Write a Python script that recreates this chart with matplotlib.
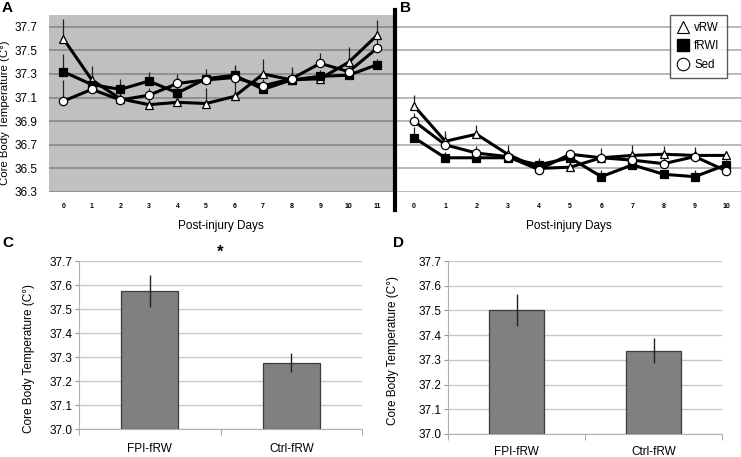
import numpy as np
import matplotlib
matplotlib.use('Agg')
import matplotlib.pyplot as plt
from matplotlib.lines import Line2D

plt.rcParams['font.family'] = ['Liberation Sans', 'DejaVu Sans']

# ---- panel A / B data (core body temperature by post-injury day) ----
days_a = list(range(12))
a_vrw = [37.60, 37.25, 37.09, 37.04, 37.06, 37.05, 37.11, 37.30, 37.25, 37.26, 37.40, 37.63]
a_frwi = [37.32, 37.21, 37.17, 37.24, 37.14, 37.26, 37.29, 37.17, 37.25, 37.28, 37.29, 37.38]
a_sed = [37.07, 37.17, 37.08, 37.12, 37.22, 37.25, 37.27, 37.20, 37.26, 37.39, 37.32, 37.52]
a_vrw_err = [0.17, 0.12, 0.08, 0.08, 0.08, 0.13, 0.15, 0.13, 0.08, 0.06, 0.13, 0.13]
a_frwi_err = [0.15, 0.08, 0.09, 0.08, 0.06, 0.05, 0.08, 0.05, 0.11, 0.05, 0.05, 0.05]
a_sed_err = [0.18, 0.07, 0.06, 0.06, 0.08, 0.09, 0.11, 0.06, 0.06, 0.09, 0.07, 0.08]

days_b = list(range(11))
b_vrw = [37.03, 36.73, 36.79, 36.62, 36.50, 36.51, 36.59, 36.61, 36.62, 36.61, 36.61]
b_frwi = [36.76, 36.59, 36.59, 36.59, 36.53, 36.59, 36.43, 36.53, 36.45, 36.43, 36.53]
b_sed = [36.90, 36.70, 36.63, 36.60, 36.49, 36.62, 36.59, 36.57, 36.54, 36.60, 36.48]
b_vrw_err = [0.09, 0.09, 0.08, 0.08, 0.05, 0.05, 0.08, 0.09, 0.07, 0.07, 0.04]
b_frwi_err = [0.09, 0.05, 0.04, 0.04, 0.06, 0.04, 0.06, 0.04, 0.04, 0.06, 0.04]
b_sed_err = [0.07, 0.09, 0.06, 0.05, 0.04, 0.04, 0.04, 0.04, 0.05, 0.04, 0.04]

yticks_ab = [36.3, 36.5, 36.7, 36.9, 37.1, 37.3, 37.5, 37.7]

# ---- panel C / D data ----
groups = ['FPI-fRW', 'Ctrl-fRW']
c_mean = [37.575, 37.277]
c_err = [0.068, 0.04]
d_mean = [37.502, 37.337]
d_err = [0.066, 0.05]
yticks_cd = [37.0, 37.1, 37.2, 37.3, 37.4, 37.5, 37.6, 37.7]

W, H = 741, 457
fig = plt.figure(figsize=(W / 100, H / 100), dpi=100)


def box(l, t, r, b):
    return [l / W, 1 - b / H, (r - l) / W, (b - t) / H]


ylab = 'Core Body Temperature (C°)'


def line_panel(ax, x, series, errs, grid_col):
    styles = [dict(marker='^', mfc='white'), dict(marker='s', mfc='black'), dict(marker='o', mfc='white')]
    for y, e in zip(series, errs):
        ax.errorbar(x, y, yerr=[np.zeros(len(e)), e], fmt='none', ecolor='#222222',
                    elinewidth=0.9, capsize=0, zorder=2)
    for y, st in zip(series, styles):
        ax.plot(x, y, color='black', lw=2.2, ms=6, mec='black', mew=0.9, zorder=3, **st)
    ax.set_ylim(36.3, 37.8)
    ax.set_yticks(yticks_ab)
    ax.set_xticks(x)
    ax.set_xticklabels([str(d) for d in x], fontsize=5, fontweight='bold')
    ax.grid(axis='y', color=grid_col, lw=1.3)
    ax.set_axisbelow(True)
    for s in ax.spines.values():
        s.set_visible(False)
    ax.tick_params(length=0)
    ax.tick_params(axis='x', pad=8)
    ax.set_xlabel('Post-injury Days', fontsize=8.5, labelpad=7)


# Panel A
axA = fig.add_axes(box(49, 15, 393, 192))
axA.set_facecolor('#c0c0c0')
line_panel(axA, days_a, [a_vrw, a_frwi, a_sed], [a_vrw_err, a_frwi_err, a_sed_err], '#8c8c8c')
axA.set_xlim(-0.5, 11.55)
axA.tick_params(axis='y', labelsize=8.5, pad=8)
axA.set_ylabel(ylab, fontsize=8.2)
axA.yaxis.set_label_coords(-0.113, 0.445)

# Panel B
axB = fig.add_axes(box(396, 15, 741, 192))
line_panel(axB, days_b, [b_vrw, b_frwi, b_sed], [b_vrw_err, b_frwi_err, b_sed_err], '#b4b4b4')
axB.set_xlim(-0.58, 10.48)
axB.set_yticklabels([])
handles = [Line2D([], [], ls='none', marker='^', ms=9, mfc='white', mec='black', mew=0.8),
           Line2D([], [], ls='none', marker='s', ms=8, mfc='black', mec='black'),
           Line2D([], [], ls='none', marker='o', ms=9, mfc='white', mec='black', mew=0.8)]
leg = axB.legend(handles, ['vRW', 'fRWI', 'Sed'], loc='upper right',
                 bbox_to_anchor=(0.958, 1.0), borderaxespad=0, fontsize=8.3, frameon=True,
                 fancybox=False, handlelength=1.0, handletextpad=0.5, borderpad=0.6,
                 labelspacing=0.55)
leg.get_frame().set_edgecolor('#333333')
leg.get_frame().set_linewidth(1.0)

# vertical divider between A and B
fig.add_artist(Line2D([395 / W, 395 / W], [1 - 10 / H, 1 - 210 / H], color='black', lw=3))


def bar_panel(ax, means, errs, xpad):
    x = np.arange(len(groups))
    ax.bar(x, [m - 37.0 for m in means], bottom=37.0, width=0.4, color='#808080',
           edgecolor='#3c3c3c', lw=0.9, zorder=2)
    ax.errorbar(x, means, yerr=errs, fmt='none', ecolor='#222222', elinewidth=1.0,
                capsize=0, zorder=3)
    ax.set_xlim(-0.5, 1.5)
    ax.set_ylim(37.0, 37.7)
    ax.set_yticks(yticks_cd)
    ax.set_yticklabels(['%.1f' % v for v in yticks_cd], fontsize=8.5)
    ax.set_xticks(x)
    ax.set_xticklabels(groups, fontsize=8.5)
    ax.set_xticks([-0.5, 0.5, 1.5], minor=True)
    ax.tick_params(axis='x', which='major', length=0, pad=xpad)
    ax.tick_params(axis='x', which='minor', length=4, color='#999999')
    ax.tick_params(axis='y', length=3, color='#999999', pad=2)
    ax.grid(axis='y', color='#c8c8c8', lw=1.0)
    ax.set_axisbelow(True)
    ax.spines['top'].set_visible(False)
    ax.spines['right'].set_visible(False)
    ax.spines['left'].set_color('#b0b0b0')
    ax.spines['bottom'].set_color('#b0b0b0')
    ax.set_ylabel(ylab, fontsize=8.5)


# Panel C
axC = fig.add_axes(box(79, 261, 362, 429))
bar_panel(axC, c_mean, c_err, 10)
axC.yaxis.set_label_coords(-0.155, 0.42)
axC.text(0.5, 37.705, '*', ha='center', va='bottom', fontsize=12, fontweight='bold', clip_on=False)

# Panel D
axD = fig.add_axes(box(448, 261, 722, 434))
bar_panel(axD, d_mean, d_err, 8.5)
axD.yaxis.set_label_coords(-0.178, 0.48)

# panel letters
for lab, (px, py) in zip('ABCD', [(2, 1), (400, 1), (2, 236), (393, 236)]):
    fig.text(px / W, 1 - py / H, lab, fontsize=11, fontweight='bold', ha='left', va='top')

fig.savefig('out.png', dpi=100)
